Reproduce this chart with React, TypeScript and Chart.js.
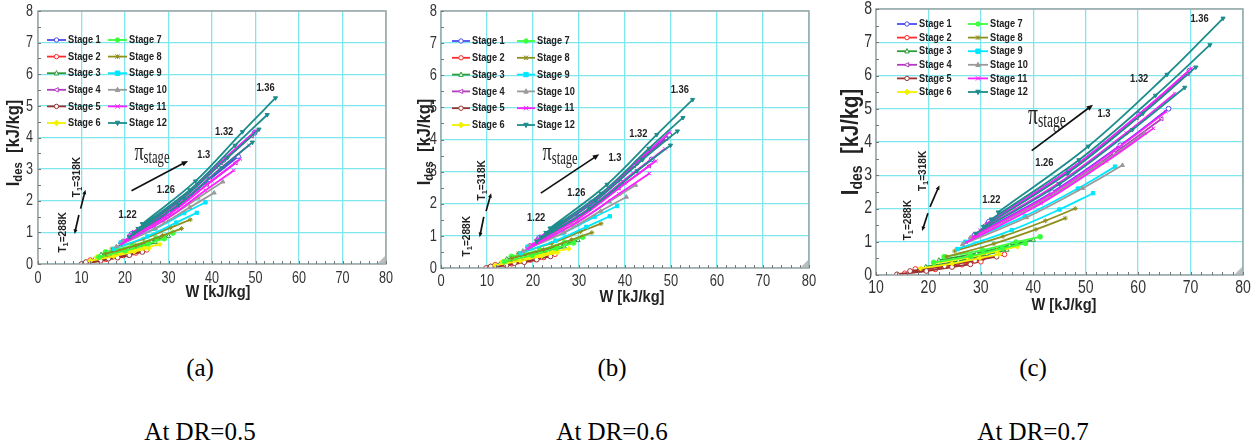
import React, { useEffect, useRef } from "react";
import { Chart, registerables } from "chart.js";
Chart.register(...registerables);

type Pt = [number, number];
type Curves = Pt[][];

// ---------- names, styles ----------
const STAGES = ["Stage 1", "Stage 2", "Stage 3", "Stage 4", "Stage 5", "Stage 6", "Stage 7", "Stage 8", "Stage 9", "Stage 10", "Stage 11", "Stage 12"];
const STAGE_COLORS = ["#4b4bf0", "#ff2a2a", "#2e9e3a", "#b23cc0", "#9c3030", "#f2f200", "#3cff3c", "#8f8f1e", "#00e8ff", "#9a9a9a", "#ff1eff", "#1e8c8c"];
const STAGE_MARKERS = ["circle", "circle", "triangle", "triangle", "circle", "rectRot", "circle", "star", "rect", "triangle", "crossRot", "triangle"];
const MARKER_ROT = [0, 0, 0, 270, 0, 0, 0, 0, 0, 0, 0, 180];
const MARKER_FILLED = [false, false, false, false, false, true, true, true, true, true, true, true];

// ---------- ticks & labels ----------
const Y_TICKS = [0, 1, 2, 3, 4, 5, 6, 7, 8];
const X_TICKS_AB = [0, 10, 20, 30, 40, 50, 60, 70, 80];
const X_TICKS_C = [10, 20, 30, 40, 50, 60, 70, 80];
const PI_LABELS = ["1.22", "1.26", "1.3", "1.32", "1.36"];
const PI_LABEL_POS_A: Pt[] = [[20.6, 1.56], [29.4, 2.33], [38.1, 3.45], [42.8, 4.17], [52.3, 5.56]];
const PI_LABEL_POS_B: Pt[] = [[20.7, 1.57], [29.4, 2.33], [37.8, 3.43], [42.9, 4.16], [51.9, 5.53]];
const PI_LABEL_POS_C: Pt[] = [[32.0, 2.26], [42.1, 3.36], [53.5, 4.84], [60.2, 5.9], [71.7, 7.7]];
const CAPTIONS = ["(a)", "(b)", "(c)"];
const DR_LABELS = ["At DR=0.5", "At DR=0.6", "At DR=0.7"];

// ---------- panel (a) data: W [kJ/kg], I_des [kJ/kg] ----------
const A_S1: Curves = [[[21.5, 0.95], [32.8, 2.04], [42.7, 3.29], [49.8, 4.15]], [[19.5, 0.7], [30.1, 1.62], [39.4, 2.67], [46, 3.4]]];
const A_S2: Curves = [[[12, 0.12], [17.2, 0.23], [21.8, 0.36], [25, 0.45]], [[11, 0.04], [15.6, 0.15], [19.6, 0.27], [22.5, 0.35]]];
const A_S3: Curves = [[[14.5, 0.3], [20.7, 0.5], [26.1, 0.72], [30, 0.88]], [[13, 0.15], [18.6, 0.33], [23.5, 0.54], [27, 0.68]]];
const A_S4: Curves = [[[21, 0.9], [32.3, 1.97], [42.2, 3.2], [49.2, 4.05]], [[19, 0.66], [29.6, 1.52], [38.9, 2.51], [45.5, 3.2]]];
const A_S5: Curves = [[[11, 0.06], [16.2, 0.17], [20.8, 0.29], [24, 0.38]], [[10, 0], [14.4, 0.1], [18.3, 0.2], [21, 0.28]]];
const A_S6: Curves = [[[13.5, 0.22], [19.3, 0.36], [24.4, 0.51], [28, 0.62]], [[12, 0.1], [17.4, 0.24], [22.1, 0.39], [25.5, 0.5]]];
const A_S7: Curves = [[[15.5, 0.38], [21.7, 0.58], [27.1, 0.82], [31, 0.98]], [[14, 0.22], [20, 0.42], [25.3, 0.64], [29, 0.8]]];
const A_S8: Curves = [[[17, 0.48], [24.2, 0.79], [30.5, 1.15], [35, 1.4]], [[15.5, 0.32], [22.5, 0.59], [28.6, 0.9], [33, 1.12]]];
const A_S9: Curves = [[[19, 0.68], [26.8, 1.11], [33.6, 1.61], [38.5, 1.95]], [[17.5, 0.48], [25.1, 0.87], [31.8, 1.31], [36.5, 1.62]]];
const A_S10: Curves = [[[19.5, 0.72], [28.7, 1.36], [36.8, 2.09], [42.5, 2.6]], [[18, 0.55], [27, 1.13], [34.9, 1.79], [40.5, 2.25]]];
const A_S11: Curves = [[[22, 1.02], [33.2, 2.1], [43, 3.35], [50, 4.21]], [[21, 0.88], [32, 1.86], [41.6, 2.98], [48.5, 3.75]], [[20, 0.75], [30.6, 1.62], [39.9, 2.63], [46.5, 3.32]], [[19, 0.62], [29.4, 1.42], [38.5, 2.33], [45, 2.96]]];
const A_S12: Curves = [[[24, 1.27], [36.2, 2.62], [47, 4.18], [54.6, 5.25]], [[23, 1.12], [34.9, 2.34], [45.3, 3.75], [52.7, 4.72]], [[22, 0.98], [33.5, 2.1], [43.6, 3.37], [50.8, 4.26]], [[21, 0.85], [32.3, 1.87], [42.2, 3.04], [49.3, 3.85]]];

// ---------- panel (b) data ----------
const B_S1: Curves = [[[21.3, 0.93], [32.6, 2.02], [42.5, 3.27], [49.6, 4.14]], [[19.3, 0.68], [29.9, 1.6], [39.2, 2.65], [45.8, 3.38]]];
const B_S2: Curves = [[[11.8, 0.1], [17, 0.21], [21.6, 0.34], [24.8, 0.43]], [[10.8, 0.03], [15.4, 0.13], [19.4, 0.25], [22.3, 0.33]]];
const B_S3: Curves = [[[14.3, 0.28], [20.5, 0.48], [25.9, 0.7], [29.8, 0.86]], [[12.8, 0.13], [18.4, 0.31], [23.3, 0.52], [26.8, 0.66]]];
const B_S4: Curves = [[[20.8, 0.88], [32.1, 1.95], [42, 3.18], [49, 4.03]], [[18.8, 0.64], [29.4, 1.5], [38.7, 2.49], [45.3, 3.18]]];
const B_S5: Curves = [[[10.8, 0.05], [16, 0.15], [20.6, 0.27], [23.8, 0.36]], [[9.8, 0], [14.2, 0.08], [18.1, 0.18], [20.8, 0.26]]];
const B_S6: Curves = [[[13.3, 0.2], [19.1, 0.34], [24.2, 0.5], [27.8, 0.6]], [[11.8, 0.08], [17.2, 0.22], [21.9, 0.37], [25.3, 0.48]]];
const B_S7: Curves = [[[15.3, 0.36], [21.5, 0.56], [26.9, 0.8], [30.8, 0.96]], [[13.8, 0.2], [19.8, 0.4], [25.1, 0.62], [28.8, 0.78]]];
const B_S8: Curves = [[[16.8, 0.46], [24, 0.77], [30.3, 1.13], [34.8, 1.38]], [[15.3, 0.3], [22.3, 0.57], [28.4, 0.88], [32.8, 1.1]]];
const B_S9: Curves = [[[18.8, 0.66], [26.6, 1.09], [33.4, 1.59], [38.3, 1.93]], [[17.3, 0.46], [24.9, 0.85], [31.6, 1.28], [36.7, 1.61]]];
const B_S10: Curves = [[[19.3, 0.7], [28.5, 1.34], [36.6, 2.07], [42.3, 2.58]], [[17.8, 0.53], [26.8, 1.11], [34.7, 1.77], [40.3, 2.21]]];
const B_S11: Curves = [[[21.8, 1.0], [33, 2.08], [42.8, 3.34], [49.7, 4.23]], [[20.8, 0.86], [32, 1.83], [41.7, 2.95], [48.7, 3.71]], [[19.8, 0.73], [30.6, 1.61], [40, 2.63], [46.7, 3.33]], [[18.8, 0.6], [29.4, 1.4], [38.7, 2.31], [45.3, 2.94]]];
const B_S12: Curves = [[[23.7, 1.24], [36.1, 2.6], [46.9, 4.15], [54.7, 5.24]], [[22.8, 1.1], [34.8, 2.32], [45.2, 3.72], [52.6, 4.68]], [[21.8, 0.96], [33.6, 2.09], [43.8, 3.37], [51.4, 4.26]], [[20.8, 0.83], [32.4, 1.85], [42.6, 3.02], [49.9, 3.82]]];

// ---------- panel (c) data ----------
const C_S1: Curves = [[[31.5, 1.6], [46.8, 3.15], [60.2, 4.83], [69.8, 6.15]], [[28.8, 1.2], [43.6, 2.49], [56.6, 3.9], [65.8, 5.0]]];
const C_S2: Curves = [[[17.5, 0.18], [24.3, 0.33], [30.3, 0.5], [34.5, 0.62]], [[15.5, 0.05], [21.3, 0.17], [26.4, 0.31], [30, 0.4]]];
const C_S3: Curves = [[[22, 0.45], [29.2, 0.65], [35.5, 0.89], [40, 1.05]], [[19.5, 0.25], [25.7, 0.42], [31.1, 0.62], [35, 0.75]]];
const C_S4: Curves = [[[30.8, 1.5], [46.3, 3.05], [59.8, 4.73], [69.5, 6.05]], [[28, 1.1], [42.6, 2.32], [55.4, 3.66], [64.5, 4.7]]];
const C_S5: Curves = [[[16.5, 0.12], [23.1, 0.27], [28.9, 0.43], [33, 0.55]], [[14, 0.02], [19.6, 0.12], [24.5, 0.24], [28, 0.32]]];
const C_S6: Curves = [[[21, 0.35], [27.4, 0.52], [33, 0.72], [37, 0.85]], [[18.5, 0.2], [24.5, 0.34], [29.8, 0.51], [33.5, 0.62]]];
const C_S7: Curves = [[[23, 0.55], [30.3, 0.75], [36.7, 0.99], [41.3, 1.15]], [[21, 0.38], [28, 0.57], [34.1, 0.8], [38.5, 0.95]]];
const C_S8: Curves = [[[25, 0.72], [34.2, 1.16], [42.3, 1.63], [48, 2.0]], [[23.5, 0.55], [32.5, 0.94], [40.5, 1.37], [46.1, 1.71]]];
const C_S9: Curves = [[[27, 1.0], [38.4, 1.77], [48.5, 2.6], [55.6, 3.26]], [[25.5, 0.78], [35.9, 1.35], [45, 1.97], [51.4, 2.46]]];
const C_S10: Curves = [[[28, 1.12], [41.3, 2.19], [53, 3.36], [61.3, 4.27]], [[26.5, 0.92], [38.7, 1.73], [49.4, 2.61], [57, 3.3]]];
const C_S11: Curves = [[[31.1, 1.55], [46.7, 3.14], [60.4, 4.87], [70.2, 6.22]], [[29.8, 1.35], [44.7, 2.75], [57.7, 4.27], [67, 5.46]], [[28.5, 1.15], [43.2, 2.43], [56.1, 3.82], [65.3, 4.91]], [[27.2, 0.98], [41.5, 2.15], [54, 3.42], [62.9, 4.41]]];
const C_S12: Curves = [[[33.3, 1.89], [50.5, 3.87], [65.5, 6.03], [76.2, 7.72]], [[32, 1.68], [48.7, 3.46], [63.3, 5.4], [73.7, 6.92]], [[30.5, 1.45], [46.7, 3.08], [60.9, 4.86], [71, 6.25]], [[29, 1.25], [45, 2.74], [58.9, 4.37], [68.9, 5.64]]];

const DATA_A = [A_S1, A_S2, A_S3, A_S4, A_S5, A_S6, A_S7, A_S8, A_S9, A_S10, A_S11, A_S12];
const DATA_B = [B_S1, B_S2, B_S3, B_S4, B_S5, B_S6, B_S7, B_S8, B_S9, B_S10, B_S11, B_S12];
const DATA_C = [C_S1, C_S2, C_S3, C_S4, C_S5, C_S6, C_S7, C_S8, C_S9, C_S10, C_S11, C_S12];

// ---------- layout (positions only) ----------
const SANS = '"Liberation Sans", Arial, sans-serif';
const SERIF = '"Liberation Serif", "Times New Roman", serif';
const GRID = "#80e6ee";
const INK = "#222222";

const PANEL_A = {
  left: 0, top: 0, width: 405, height: 310,
  yAxisW: 38, xAxisH: 46, padTop: 11, padRight: 19,
  xMin: 0, xTicks: X_TICKS_AB, piPos: PI_LABEL_POS_A,
  tickFont: 17, tickSx: 0.74, xLabelDy: 14, yLabelDx: 5,
  xTitle: { x: 218, y: 292, size: 17, sx: 0.86 },
  yTitle: { x: 14, y: 143, size: 19, sx: 0.87 },
  legend: { x1: 47, x2: 108, lineW: 19, y0: 40, dy: 16.6, size: 11.5, sx: 0.8 },
  pi: { x: 26.2, y: 3.5, size: 26, sub: 18, sx: 0.7 },
  piArrow: [[21.5, 2.32], [34.5, 3.26]],
  t318: [9.0, 2.75], t318Arrow: [[9.8, 1.75], [10.9, 2.35]],
  t288: [5.7, 1.0], t288Arrow: [[9.4, 1.55], [8.4, 0.95]],
  numSize: 11,
};
const PANEL_B = {
  left: 415, top: 0, width: 405, height: 310,
  yAxisW: 26, xAxisH: 42, padTop: 11, padRight: 11,
  xMin: 0, xTicks: X_TICKS_AB, piPos: PI_LABEL_POS_B,
  tickFont: 17, tickSx: 0.76, xLabelDy: 13, yLabelDx: 4,
  xTitle: { x: 217, y: 297, size: 17, sx: 0.86 },
  yTitle: { x: 10, y: 142, size: 19, sx: 0.87 },
  legend: { x1: 37, x2: 102, lineW: 18, y0: 41, dy: 16.8, size: 11.5, sx: 0.8 },
  pi: { x: 25.9, y: 3.56, size: 26, sub: 18, sx: 0.7 },
  piArrow: [[21.7, 2.33], [34.4, 3.54]],
  t318: [8.9, 2.73], t318Arrow: [[9.8, 1.77], [10.9, 2.33]],
  t288: [5.6, 0.99], t288Arrow: [[9.3, 1.59], [8.4, 0.96]],
  numSize: 11,
};
const PANEL_C = {
  left: 830, top: 0, width: 425, height: 320,
  yAxisW: 46, xAxisH: 45, padTop: 9, padRight: 12,
  xMin: 10, xTicks: X_TICKS_C, piPos: PI_LABEL_POS_C,
  tickFont: 18, tickSx: 0.78, xLabelDy: 13, yLabelDx: 4,
  xTitle: { x: 234, y: 305, size: 17, sx: 0.86 },
  yTitle: { x: 22, y: 142, size: 23, sx: 0.88 },
  legend: { x1: 67, x2: 138, lineW: 20, y0: 24, dy: 13.6, size: 11.5, sx: 0.8 },
  pi: { x: 42.6, y: 4.77, size: 29, sub: 20, sx: 0.68 },
  piArrow: [[39.7, 3.74], [51.4, 5.12]],
  t318: [18.96, 3.13], t318Arrow: [[20.3, 2.05], [22.1, 2.7]],
  t288: [16.1, 1.65], t288Arrow: [[19.9, 1.86], [18.8, 1.32]],
  numSize: 11,
};

// ---------- drawing helpers ----------
type Run = { t: string; font: string; dy?: number };
function drawRuns(ctx: CanvasRenderingContext2D, runs: Run[], x: number, y: number, o: { sx?: number; rot?: number; align?: string; color?: string } = {}) {
  ctx.save();
  ctx.translate(x, y);
  if (o.rot) ctx.rotate(o.rot);
  ctx.scale(o.sx ?? 1, 1);
  ctx.fillStyle = o.color ?? INK;
  ctx.textBaseline = "middle";
  ctx.textAlign = "left";
  let w = 0;
  for (const r of runs) { ctx.font = r.font; w += ctx.measureText(r.t).width; }
  let cx = o.align === "left" ? 0 : o.align === "right" ? -w : -w / 2;
  for (const r of runs) { ctx.font = r.font; ctx.fillText(r.t, cx, r.dy ?? 0); cx += ctx.measureText(r.t).width; }
  ctx.restore();
}

function drawArrow(ctx: CanvasRenderingContext2D, x0: number, y0: number, x1: number, y1: number, head = 6) {
  const ang = Math.atan2(y1 - y0, x1 - x0);
  ctx.save();
  ctx.strokeStyle = "#111"; ctx.fillStyle = "#111"; ctx.lineWidth = 1.7;
  ctx.beginPath();
  ctx.moveTo(x0, y0);
  ctx.lineTo(x1 - Math.cos(ang) * head * 0.6, y1 - Math.sin(ang) * head * 0.6);
  ctx.stroke();
  ctx.beginPath();
  ctx.moveTo(x1, y1);
  ctx.lineTo(x1 - head * Math.cos(ang - 0.4), y1 - head * Math.sin(ang - 0.4));
  ctx.lineTo(x1 - head * Math.cos(ang + 0.4), y1 - head * Math.sin(ang + 0.4));
  ctx.closePath();
  ctx.fill();
  ctx.restore();
}

function drawMarker(ctx: CanvasRenderingContext2D, i: number, x: number, y: number, r: number) {
  const style = STAGE_MARKERS[i];
  ctx.save();
  ctx.translate(x, y);
  ctx.rotate((MARKER_ROT[i] * Math.PI) / 180);
  ctx.strokeStyle = STAGE_COLORS[i];
  ctx.fillStyle = MARKER_FILLED[i] ? STAGE_COLORS[i] : "#ffffff";
  ctx.lineWidth = 1;
  ctx.beginPath();
  if (style === "circle") ctx.arc(0, 0, r, 0, Math.PI * 2);
  else if (style === "triangle") { ctx.moveTo(0, -r * 1.2); ctx.lineTo(r, r * 0.8); ctx.lineTo(-r, r * 0.8); ctx.closePath(); }
  else if (style === "rect") ctx.rect(-r, -r, 2 * r, 2 * r);
  else if (style === "rectRot") { ctx.moveTo(0, -r * 1.3); ctx.lineTo(r * 1.3, 0); ctx.lineTo(0, r * 1.3); ctx.lineTo(-r * 1.3, 0); ctx.closePath(); }
  else { ctx.moveTo(-r, -r); ctx.lineTo(r, r); ctx.moveTo(r, -r); ctx.lineTo(-r, r); if (style === "star") { ctx.moveTo(0, -r); ctx.lineTo(0, r); } }
  ctx.fill();
  ctx.stroke();
  ctx.restore();
}

function makeOverlay(cfg: any) {
  return {
    id: "overlay",
    afterDraw(chart: any) {
      const ctx: CanvasRenderingContext2D = chart.ctx;
      const a = chart.chartArea;
      const xs = chart.scales.x;
      const ys = chart.scales.y;
      const px = (v: number) => xs.getPixelForValue(v);
      const py = (v: number) => ys.getPixelForValue(v);
      ctx.save();
      // frame
      ctx.strokeStyle = "#a4a4a4"; ctx.lineWidth = 1.5;
      ctx.strokeRect(a.left, a.top, a.right - a.left, a.bottom - a.top);
      // minor ticks
      ctx.strokeStyle = "#777"; ctx.lineWidth = 1;
      ctx.beginPath();
      for (let v = cfg.xMin; v <= 80; v += 2) { const X = Math.round(px(v)) + 0.5; ctx.moveTo(X, a.bottom); ctx.lineTo(X, a.bottom - 3); }
      for (let v = 0; v <= 8; v += 0.5) { const Y = Math.round(py(v)) + 0.5; ctx.moveTo(a.left, Y); ctx.lineTo(a.left + 3, Y); }
      ctx.stroke();
      // resize grip
      ctx.fillStyle = "#bdbdbd";
      ctx.beginPath(); ctx.moveTo(a.right - 1, a.bottom - 1); ctx.lineTo(a.right - 1, a.bottom - 8); ctx.lineTo(a.right - 8, a.bottom - 1); ctx.closePath(); ctx.fill();
      // tick labels
      const tf = `${cfg.tickFont}px ${SANS}`;
      cfg.xTicks.forEach((v: number) => drawRuns(ctx, [{ t: String(v), font: tf }], px(v), a.bottom + cfg.xLabelDy, { sx: cfg.tickSx, color: "#333" }));
      Y_TICKS.forEach((v) => drawRuns(ctx, [{ t: String(v), font: tf }], a.left - cfg.yLabelDx, py(v), { sx: cfg.tickSx, align: "right", color: "#333" }));
      // axis titles
      drawRuns(ctx, [{ t: "W [kJ/kg]", font: `bold ${cfg.xTitle.size}px ${SANS}` }], cfg.xTitle.x, cfg.xTitle.y, { sx: cfg.xTitle.sx });
      const ysz = cfg.yTitle.size;
      drawRuns(ctx, [
        { t: "I", font: `bold ${ysz}px ${SANS}` },
        { t: "des", font: `bold ${Math.round(ysz * 0.68)}px ${SANS}`, dy: ysz * 0.25 },
        { t: "  [kJ/kg]", font: `bold ${ysz}px ${SANS}` },
      ], cfg.yTitle.x, cfg.yTitle.y, { sx: cfg.yTitle.sx, rot: -Math.PI / 2 });
      // legend
      const lg = cfg.legend;
      for (let i = 0; i < 12; i++) {
        const col = i < 6 ? 0 : 1;
        const row = i % 6;
        const lx = col === 0 ? lg.x1 : lg.x2;
        const ly = lg.y0 + row * lg.dy;
        ctx.strokeStyle = STAGE_COLORS[i]; ctx.lineWidth = 1.8;
        ctx.beginPath(); ctx.moveTo(lx, ly); ctx.lineTo(lx + lg.lineW, ly); ctx.stroke();
        drawMarker(ctx, i, lx + lg.lineW / 2, ly, 2.2);
        drawRuns(ctx, [{ t: STAGES[i], font: `bold ${lg.size}px ${SANS}` }], lx + lg.lineW + 2, ly, { sx: lg.sx, align: "left" });
      }
      // pressure-ratio labels
      PI_LABELS.forEach((s, k) => drawRuns(ctx, [{ t: s, font: `bold ${cfg.numSize}px ${SANS}` }], px(cfg.piPos[k][0]), py(cfg.piPos[k][1]), { sx: 0.85 }));
      // pi_stage + arrow
      drawRuns(ctx, [
        { t: "\u03c0", font: `${cfg.pi.size}px ${SERIF}` },
        { t: "stage", font: `${cfg.pi.sub}px ${SERIF}`, dy: cfg.pi.size * 0.2 },
      ], px(cfg.pi.x), py(cfg.pi.y), { sx: cfg.pi.sx });
      drawArrow(ctx, px(cfg.piArrow[0][0]), py(cfg.piArrow[0][1]), px(cfg.piArrow[1][0]), py(cfg.piArrow[1][1]), 7);
      // T1 labels + arrows
      const tfont = `bold 11px ${SANS}`;
      const tsub = `bold 8px ${SANS}`;
      drawRuns(ctx, [{ t: "T", font: tfont }, { t: "1", font: tsub, dy: 3 }, { t: "=318K", font: tfont }], px(cfg.t318[0]), py(cfg.t318[1]), { rot: -Math.PI / 2, sx: 0.92 });
      drawRuns(ctx, [{ t: "T", font: tfont }, { t: "1", font: tsub, dy: 3 }, { t: "=288K", font: tfont }], px(cfg.t288[0]), py(cfg.t288[1]), { rot: -Math.PI / 2, sx: 0.92 });
      drawArrow(ctx, px(cfg.t318Arrow[0][0]), py(cfg.t318Arrow[0][1]), px(cfg.t318Arrow[1][0]), py(cfg.t318Arrow[1][1]), 5);
      drawArrow(ctx, px(cfg.t288Arrow[0][0]), py(cfg.t288Arrow[0][1]), px(cfg.t288Arrow[1][0]), py(cfg.t288Arrow[1][1]), 5);
      ctx.restore();
    },
  };
}

function buildDatasets(stages: Curves[]) {
  return stages.map((curves, i) => {
    const data: { x: number; y: number | null }[] = [];
    curves.forEach((c, k) => {
      if (k > 0) data.push({ x: c[0][0], y: null });
      c.forEach((p) => data.push({ x: p[0], y: p[1] }));
    });
    return {
      label: STAGES[i],
      data,
      borderColor: STAGE_COLORS[i],
      backgroundColor: MARKER_FILLED[i] ? STAGE_COLORS[i] : "#ffffff",
      pointStyle: STAGE_MARKERS[i],
      pointRotation: MARKER_ROT[i],
      pointRadius: 2.4,
      pointBorderWidth: 1,
      borderWidth: 1.8,
      tension: 0.35,
      spanGaps: false,
      order: 12 - i,
    };
  });
}

function Panel({ cfg, stages }: { cfg: any; stages: Curves[] }) {
  const ref = useRef<HTMLCanvasElement>(null);
  useEffect(() => {
    const chart = new Chart(ref.current as HTMLCanvasElement, {
      type: "line",
      data: { datasets: buildDatasets(stages) as any },
      options: {
        responsive: false,
        animation: false,
        devicePixelRatio: 1,
        layout: { padding: { left: 0, top: cfg.padTop, right: cfg.padRight, bottom: 0 } },
        plugins: { legend: { display: false }, tooltip: { enabled: false } },
        scales: {
          x: {
            type: "linear", min: cfg.xMin, max: 80,
            ticks: { display: false, stepSize: 10 },
            grid: { color: GRID, lineWidth: 1.3, drawTicks: false },
            border: { display: false },
            afterFit: (s: any) => { s.height = cfg.xAxisH; },
          },
          y: {
            type: "linear", min: 0, max: 8,
            ticks: { display: false, stepSize: 1 },
            grid: { color: GRID, lineWidth: 1.3, drawTicks: false },
            border: { display: false },
            afterFit: (s: any) => { s.width = cfg.yAxisW; },
          },
        },
      } as any,
      plugins: [makeOverlay(cfg)],
    });
    return () => chart.destroy();
  }, []);
  return (
    <div style={{ position: "absolute", left: cfg.left, top: cfg.top, width: cfg.width, height: cfg.height }}>
      <canvas ref={ref} width={cfg.width} height={cfg.height} style={{ display: "block" }} />
    </div>
  );
}

const CAPTION_X = [200, 612, 1033];

export default function App() {
  return (
    <div style={{ position: "fixed", left: 0, top: 0, width: 1255, height: 446, background: "#ffffff", overflow: "hidden" }}>
      <Panel cfg={PANEL_A} stages={DATA_A} />
      <Panel cfg={PANEL_B} stages={DATA_B} />
      <Panel cfg={PANEL_C} stages={DATA_C} />
      {CAPTIONS.map((c, i) => (
        <div key={c} style={{ position: "absolute", left: CAPTION_X[i], top: 368, transform: "translate(-50%,-50%)", fontFamily: SERIF, fontSize: 25, color: "#000", whiteSpace: "nowrap" }}>{c}</div>
      ))}
      {DR_LABELS.map((c, i) => (
        <div key={c} style={{ position: "absolute", left: CAPTION_X[i], top: 432, transform: "translate(-50%,-50%)", fontFamily: SERIF, fontSize: 25, color: "#000", whiteSpace: "nowrap" }}>{c}</div>
      ))}
    </div>
  );
}
